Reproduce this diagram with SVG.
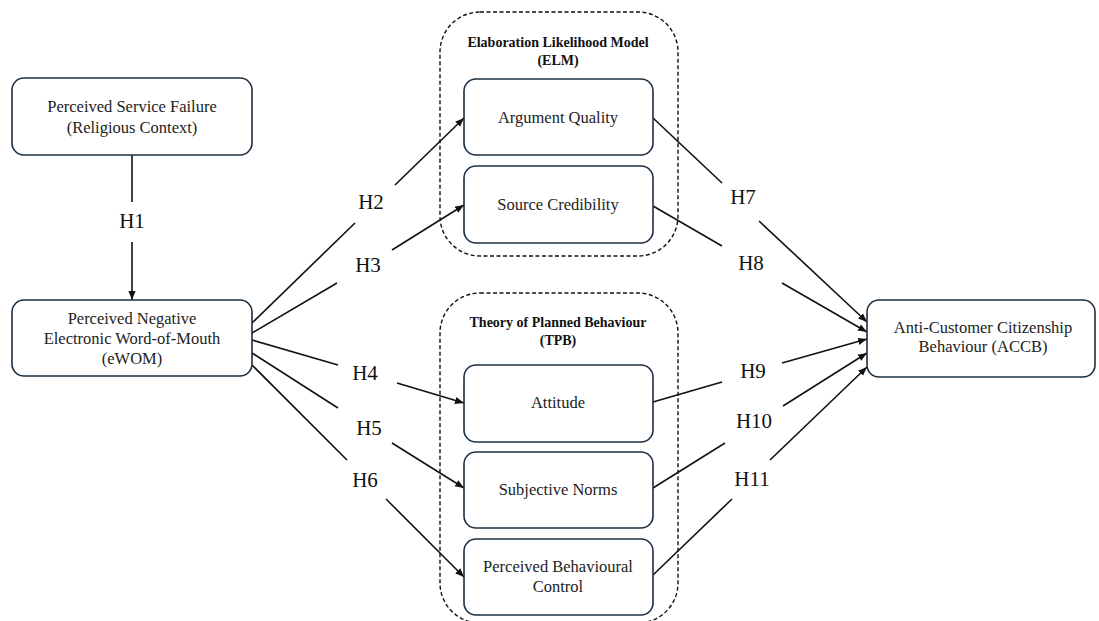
<svg xmlns="http://www.w3.org/2000/svg" width="1099" height="621" viewBox="0 0 1099 621">
<defs>
<marker id="ah" viewBox="0 0 10 10" refX="10" refY="5" markerWidth="9" markerHeight="9" markerUnits="userSpaceOnUse" orient="auto">
<path d="M0,1 L10,5 L0,9 Z" fill="#111"/>
</marker>
<style>
.node{fill:#fff;stroke:#1d2f40;stroke-width:1.6}
.grp{fill:none;stroke:#111;stroke-width:1.4;stroke-dasharray:4 2.5}
text{font-family:'Liberation Serif','DejaVu Serif',serif}
.t{font-size:16.5px;fill:#222;text-anchor:middle}
.tt{font-size:14px;font-weight:bold;fill:#111;text-anchor:middle}
.h{font-size:21px;fill:#111;text-anchor:middle}
.e{fill:none;stroke:#111;stroke-width:1.6}
</style>
</defs>
<rect width="1099" height="621" fill="#fff"/>
<g id="group-elm">
<rect class="grp" x="440" y="12" width="238" height="244" rx="40"/>
<text class="tt" x="558" y="47" font-family="Liberation Serif, DejaVu Serif, serif">Elaboration Likelihood Model</text>
<text class="tt" x="558" y="65" font-family="Liberation Serif, DejaVu Serif, serif">(ELM)</text>
</g>
<g id="group-tpb">
<rect class="grp" x="440" y="293" width="238" height="330" rx="40"/>
<text class="tt" x="558" y="327" font-family="Liberation Serif, DejaVu Serif, serif">Theory of Planned Behaviour</text>
<text class="tt" x="558" y="345" font-family="Liberation Serif, DejaVu Serif, serif">(TPB)</text>
</g>
<g id="connectors">
<path class="e" d="M132,155 L132,202"/>
<path class="e" d="M132,242 L132,300" marker-end="url(#ah)"/>
<path class="e" d="M252,323 L355,223"/>
<path class="e" d="M395,185 L464,118" marker-end="url(#ah)"/>
<path class="e" d="M252,333 L337,283"/>
<path class="e" d="M392,250 L464,205" marker-end="url(#ah)"/>
<path class="e" d="M252,340 L338,365"/>
<path class="e" d="M397,383 L464,403" marker-end="url(#ah)"/>
<path class="e" d="M252,353 L338,408"/>
<path class="e" d="M392,443 L464,488" marker-end="url(#ah)"/>
<path class="e" d="M252,365 L347,460"/>
<path class="e" d="M386,499 L464,577" marker-end="url(#ah)"/>
<path class="e" d="M653,118 L722,183"/>
<path class="e" d="M759,221 L867,322" marker-end="url(#ah)"/>
<path class="e" d="M653,206 L722,246"/>
<path class="e" d="M782,283 L867,332" marker-end="url(#ah)"/>
<path class="e" d="M653,402 L722,382"/>
<path class="e" d="M782,363 L867,339" marker-end="url(#ah)"/>
<path class="e" d="M653,488 L725,443"/>
<path class="e" d="M783,406 L867,353" marker-end="url(#ah)"/>
<path class="e" d="M653,575 L732,499"/>
<path class="e" d="M770,460 L867,367" marker-end="url(#ah)"/>
<g font-family="Liberation Serif, DejaVu Serif, serif">
<text class="h" x="132" y="228">H1</text>
<text class="h" x="371" y="209">H2</text>
<text class="h" x="368" y="272">H3</text>
<text class="h" x="365" y="380">H4</text>
<text class="h" x="369" y="435">H5</text>
<text class="h" x="365" y="487">H6</text>
<text class="h" x="743" y="204">H7</text>
<text class="h" x="751" y="270">H8</text>
<text class="h" x="753" y="378">H9</text>
<text class="h" x="754" y="428">H10</text>
<text class="h" x="752" y="486">H11</text>
</g>
</g>
<g id="node-psf" font-family="Liberation Serif, DejaVu Serif, serif">
<rect class="node" x="12" y="78" width="240" height="77" rx="12"/>
<text class="t" x="132" y="112">Perceived Service Failure</text>
<text class="t" x="132" y="133">(Religious Context)</text>
</g>
<g id="node-ewom" font-family="Liberation Serif, DejaVu Serif, serif">
<rect class="node" x="12" y="300" width="240" height="76" rx="12"/>
<text class="t" x="132" y="324">Perceived Negative</text>
<text class="t" x="132" y="344">Electronic Word-of-Mouth</text>
<text class="t" x="132" y="364">(eWOM)</text>
</g>
<g id="node-aq" font-family="Liberation Serif, DejaVu Serif, serif">
<rect class="node" x="464" y="79" width="189" height="76" rx="12"/>
<text class="t" x="558" y="123">Argument Quality</text>
</g>
<g id="node-sc" font-family="Liberation Serif, DejaVu Serif, serif">
<rect class="node" x="464" y="166" width="189" height="77" rx="12"/>
<text class="t" x="558" y="210">Source Credibility</text>
</g>
<g id="node-att" font-family="Liberation Serif, DejaVu Serif, serif">
<rect class="node" x="464" y="365" width="189" height="77" rx="12"/>
<text class="t" x="558" y="408">Attitude</text>
</g>
<g id="node-sn" font-family="Liberation Serif, DejaVu Serif, serif">
<rect class="node" x="464" y="452" width="189" height="76" rx="12"/>
<text class="t" x="558" y="495">Subjective Norms</text>
</g>
<g id="node-pbc" font-family="Liberation Serif, DejaVu Serif, serif">
<rect class="node" x="464" y="539" width="189" height="76" rx="12"/>
<text class="t" x="558" y="572">Perceived Behavioural</text>
<text class="t" x="558" y="592">Control</text>
</g>
<g id="node-accb" font-family="Liberation Serif, DejaVu Serif, serif">
<rect class="node" x="867" y="300" width="228" height="77" rx="12"/>
<text class="t" x="983" y="333">Anti-Customer Citizenship</text>
<text class="t" x="983" y="352">Behaviour (ACCB)</text>
</g>
</svg>
